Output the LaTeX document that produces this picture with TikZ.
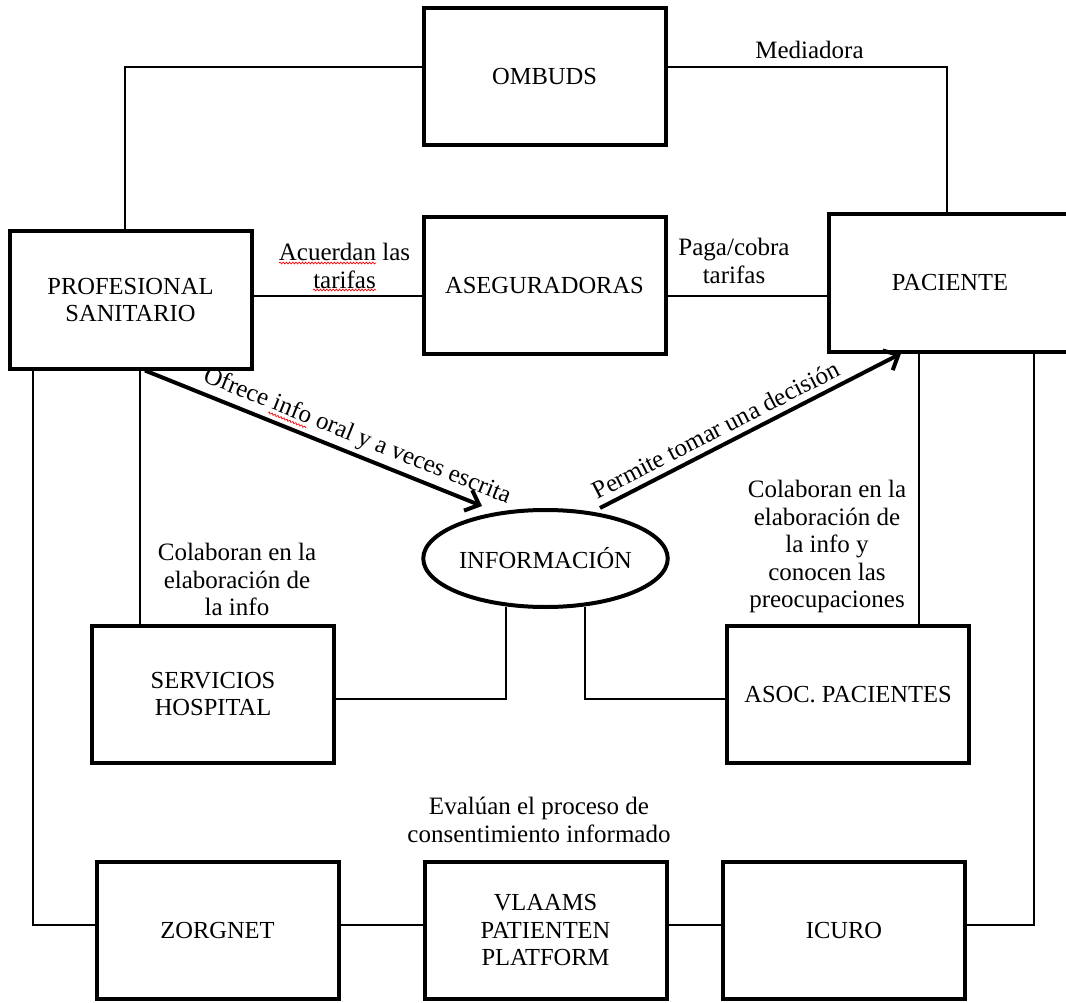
\documentclass[tikz,border=0pt]{standalone}
\usepackage{fontspec}
\setmainfont{Liberation Serif}
\usetikzlibrary{arrows.meta,shapes.geometric,calc,decorations.pathmorphing}
\begin{document}
\begin{tikzpicture}[x=1pt,y=-1pt,
  box/.style={draw, line width=4pt, minimum width=242pt, minimum height=137pt,
    inner sep=0pt, align=center, font=\fontsize{24.5}{27.5}\selectfont},
  infobox/.style={draw, ellipse, line width=4pt, minimum width=243pt, minimum height=97pt,
    inner sep=0pt, font=\fontsize{24.5}{27.5}\selectfont},
  conn/.style={line width=1.2pt},
  bigarrow/.style={line width=4pt, -{Straight Barb[length=12pt,width=22pt]}},
  lbl/.style={align=center, inner sep=0pt, font=\fontsize{25}{27.5}\selectfont},
  spell/.style={red, line width=0.7pt, decorate,
    decoration={snake, amplitude=0.9pt, segment length=3.2pt}}]
\useasboundingbox (0,0) rectangle (1066,1003);
\clip (0,0) rectangle (1066,1003);

% boxes
\node[box] (ombuds) at (544.5,77) {OMBUDS};
\node[box] (prof)   at (130.5,300) {PROFESIONAL\\SANITARIO};
\node[box] (aseg)   at (544.5,285.5) {ASEGURADORAS};
\node[box] (pac)    at (950,283) {PACIENTE};
\node[infobox] (info) at (545.5,558.5) {INFORMACIÓN};
\node[box] (serv)   at (213,694) {SERVICIOS\\HOSPITAL};
\node[box] (asoc)   at (848,694.5) {ASOC. PACIENTES};
\node[box] (zorg)   at (217.5,930.5) {ZORGNET};
\node[box] (vlaams) at (545.5,930.5) {VLAAMS\\PATIENTEN\\PLATFORM};
\node[box] (icuro)  at (844,930.5) {ICURO};

% connectors
\draw[conn] ([yshift=10pt]ombuds.west) -| ([xshift=-5.5pt]prof.north);
\draw[conn] ([yshift=10pt]ombuds.east) -| ([xshift=-3pt]pac.north);
\draw[conn] ([yshift=4pt]prof.east) -- ([yshift=-10.5pt]aseg.west);
\draw[conn] ([yshift=-10.5pt]aseg.east) -- ([yshift=-13pt]pac.west);
\draw[conn] ([xshift=-97.5pt]prof.south) |- ([yshift=5.5pt]zorg.west);
\draw[conn] ([xshift=9.5pt]prof.south) -- ([xshift=-73pt]serv.north);
\draw[conn] ([yshift=-5pt]serv.east) -| ([xshift=-39.5pt,yshift=2pt]info.south);
\draw[conn] ([xshift=39.5pt,yshift=2pt]info.south) |- ([yshift=-4.5pt]asoc.west);
\draw[conn] ([xshift=-31pt]pac.south) -- ([xshift=71pt]asoc.north);
\draw[conn] ([xshift=84pt]pac.south) |- ([yshift=5.5pt]icuro.east);
\draw[conn] ([yshift=5.5pt]zorg.east) -- ([yshift=5.5pt]vlaams.west);
\draw[conn] ([yshift=5.5pt]vlaams.east) -- ([yshift=5.5pt]icuro.west);

% arrows
\draw[bigarrow] ([xshift=14.5pt]prof.south) --
  node[pos=0.61, above, sloped, lbl, inner sep=4pt] (lofrece) {Ofrece info oral y a veces escrita}
  ([xshift=-63.5pt,yshift=2pt]info.north);
\draw[bigarrow] ([xshift=54.5pt]info.north) --
  node[pos=0.41, above, sloped, lbl, inner sep=6pt] (lpermite) {Permite tomar una decisión}
  ([xshift=-49pt]pac.south);

% labels
\node[lbl, anchor=north] (lmed) at (809.5,41) {Mediadora};
\node[lbl, anchor=north] (lacu) at (344.5,243) {Acuerdan las\\tarifas};
\node[lbl, anchor=north] (lpaga) at (734,238) {Paga/cobra\\tarifas};
\node[lbl, anchor=north] (lcol1) at (237,543) {Colaboran en la\\elaboración de\\la info};
\node[lbl, anchor=north] (lcol2) at (827,480) {Colaboran en la\\elaboración de\\la info y\\conocen las\\preocupaciones};
\node[lbl, anchor=north] (leval) at (539,797) {Evalúan el proceso de\\consentimiento informado};

% spell-check wavy underlines
\draw[spell] (279,263) -- (376,263);
\draw[spell] (313,290) -- (376,290);
\coordinate (ow) at ($(lofrece.base west)!0.38!(lofrece.south west)$);
\coordinate (oe) at ($(lofrece.base east)!0.38!(lofrece.south east)$);
\draw[spell] ($(ow)!0.2306!(oe)$) -- ($(ow)!0.351!(oe)$);
\end{tikzpicture}
\end{document}
